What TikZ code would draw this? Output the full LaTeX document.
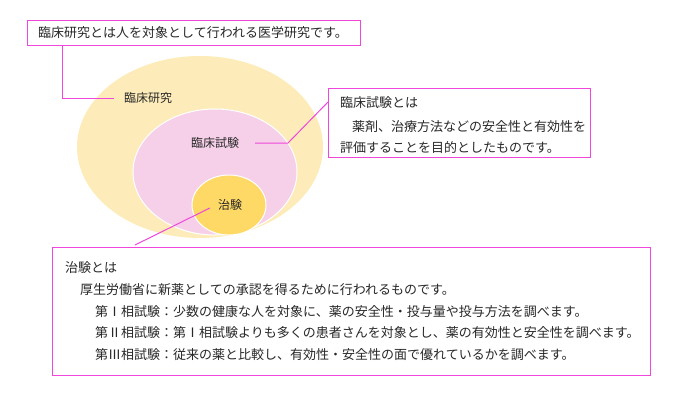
\documentclass[tikz,border=0pt]{standalone}
\usepackage{fontspec}
\setmainfont{Noto Sans CJK JP}
\usetikzlibrary{positioning}
\definecolor{colorline}  {RGB}{240,70,220}
\definecolor{colorstudy} {RGB}{253,236,185}
\definecolor{colortrial} {RGB}{246,208,232}
\definecolor{colorchiken}{RGB}{254,217,102}
\definecolor{colortext}  {RGB}{40,40,40}

\begin{document}
\begin{tikzpicture}[
    x=1pt, y=-1pt,
    font={\fontsize{12}{14}\selectfont},
    label/.style={text=colortext,inner sep=0pt},
    line/.style={draw=colorline,line width=1pt},
    box/.style={draw=colorline,line width=1pt,fill=white},
    txt/.style={text=colortext,anchor=west,inner sep=0pt,font={\fontsize{13}{15}\selectfont}},
]
    \useasboundingbox (0,0) rectangle (700,400);

    % circles
    \draw[fill=colorstudy,draw=none] (200,147) ellipse (123 and 91);
    \draw[fill=colortrial,draw=white,line width=1pt] (215,172) ellipse (82 and 63);
    \draw[fill=colorchiken,draw=white,line width=1pt] (229,205) ellipse (37 and 30);
    \node[label] (study) at (148,98) {臨床研究};
    \node[label] (trial) at (215,143) {臨床試験};
    \node[label] (chiken) at (230,205) {治験};

    % top box
    \draw[box] (27,20) rectangle (360,45);
    \node[txt] (studytxt) at (38,33) {臨床研究とは人を対象として行われる医学研究です。};
    \coordinate (studyfoot) at (62,45);
    \draw[line] (studyfoot) |- ([xshift=-10pt]study.west);

    % right box
    \draw[box] (328,88) rectangle (590,157);
    \node[txt] (trialtxt) at (340,103) {臨床試験とは};
    \node[txt] at (352,127) {薬剤、治療方法などの安全性と有効性を};
    \node[txt] at (340,148) {評価することを目的としたものです。};
    \coordinate (trialfoot) at (328,102);
    \coordinate (trialbend) at (288,143);
    \draw[line] ([xshift=16pt]trial.east) -- (trialbend) -- (trialfoot);

    % bottom box
    \draw[box] (52,247) rectangle (650,375);
    \node[txt] (chikentxt) at (65,268) {治験とは};
    \node[txt] at (80,290) {厚生労働省に新薬としての承認を得るために行われるものです。};
    \node[txt] at (95,312) {第Ⅰ相試験：少数の健康な人を対象に、薬の安全性・投与量や投与方法を調べます。};
    \node[txt] at (95,333) {第Ⅱ相試験：第Ⅰ相試験よりも多くの患者さんを対象とし、薬の有効性と安全性を調べます。};
    \node[txt] at (95,355) {第Ⅲ相試験：従来の薬と比較し、有効性・安全性の面で優れているかを調べます。};
    \coordinate (chikenfoot) at (135,245);
    \draw[line] (chikenfoot) -- ([xshift=-8pt,yshift=-3pt]chiken.west);

\end{tikzpicture}
\end{document}
